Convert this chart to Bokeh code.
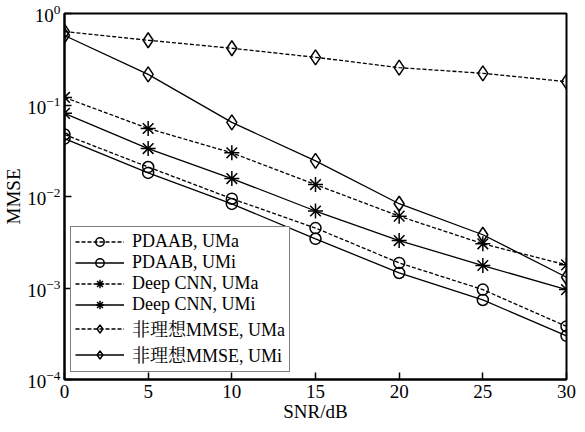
import math
from bokeh.plotting import figure
from bokeh.models import Range1d, FixedTicker, Legend, LegendItem
from bokeh.embed import file_html
from bokeh.resources import INLINE

snr = [0, 5, 10, 15, 20, 25, 30]
pdaab_uma = [0.0476, 0.0210, 0.00946, 0.00452, 0.00188, 0.00096, 0.00038]
pdaab_umi = [0.0430, 0.0181, 0.00830, 0.00345, 0.00146, 0.00074, 0.00030]
cnn_uma = [0.121, 0.0554, 0.0300, 0.0135, 0.0061, 0.00304, 0.00179]
cnn_umi = [0.081, 0.0334, 0.0157, 0.00694, 0.0033, 0.00176, 0.00096]
mmse_uma = [0.635, 0.510, 0.417, 0.332, 0.256, 0.222, 0.180]
mmse_umi = [0.575, 0.216, 0.0645, 0.0245, 0.00834, 0.00382, 0.00131]

labels = ["PDAAB, UMa", "PDAAB, UMi", "Deep CNN, UMa", "Deep CNN, UMi",
          "非理想MMSE, UMa", "非理想MMSE, UMi"]
x_ticks = [0, 5, 10, 15, 20, 25, 30]
y_ticks = [1e-4, 1e-3, 1e-2, 1e-1, 1e0]

FONT = "'Liberation Serif', 'Noto Serif CJK SC', 'Noto Sans CJK SC', serif"

p = figure(width=577, height=424, y_axis_type="log",
           x_range=Range1d(0, 30), y_range=Range1d(1e-4, 1),
           output_backend="svg", toolbar_location=None,
           min_border_left=62, min_border_right=11,
           min_border_top=13, min_border_bottom=45)
p.background_fill_color = "white"
p.border_fill_color = "white"
p.outline_line_color = "black"
p.outline_line_width = 2
p.grid.visible = False

for ax in (p.xaxis, p.yaxis):
    ax.axis_line_color = "black"
    ax.axis_line_width = 2
    ax.major_tick_in = 7
    ax.major_tick_out = 0
    ax.major_tick_line_width = 1.5
    ax.major_tick_line_color = "black"
    ax.minor_tick_line_color = None
    ax.major_label_text_font = FONT
    ax.major_label_text_font_size = "19px"
    ax.major_label_text_color = "black"
    ax.axis_label_standoff = 0
    ax.axis_label_text_font = FONT
    ax.axis_label_text_font_size = "19px"
    ax.axis_label_text_font_style = "normal"
    ax.axis_label_text_color = "black"
p.xaxis.ticker = FixedTicker(ticks=x_ticks)
p.yaxis.ticker = FixedTicker(ticks=y_ticks)
p.xaxis.major_label_standoff = 5
p.yaxis.major_label_standoff = 4
p.xaxis.axis_label = "SNR/dB"
p.yaxis.axis_label = "MMSE"

series = [
    (pdaab_uma, "circle", "4 2", 11),
    (pdaab_umi, "circle", "solid", 11),
    (cnn_uma, "asterisk", "4 2", 15),
    (cnn_umi, "asterisk", "solid", 15),
    (mmse_uma, "diamond", "4 2", 15),
    (mmse_umi, "diamond", "solid", 15),
]

items = []
for (vals, marker, dash, size), lab in zip(series, labels):
    l = p.line(snr, vals, line_color="black", line_width=1.3, line_dash=dash)
    s = p.scatter(snr, vals, marker=marker, size=size, line_color="black",
                  line_width=1.5, fill_color=None)
    items.append(LegendItem(label=lab, renderers=[l, s]))

legend = Legend(items=items, location=(6, 7))
legend.label_text_font = FONT
legend.label_text_font_size = "18px"
legend.label_text_color = "black"
legend.label_height = 21
legend.glyph_height = 21
legend.glyph_width = 49
legend.label_standoff = 8
legend.spacing = 0
legend.padding = 4
legend.margin = 0
legend.border_line_color = "black"
legend.border_line_width = 1.5
legend.background_fill_color = "white"
legend.background_fill_alpha = 1
p.add_layout(legend, "center")

open("out.html", "w").write(file_html(p, INLINE))
